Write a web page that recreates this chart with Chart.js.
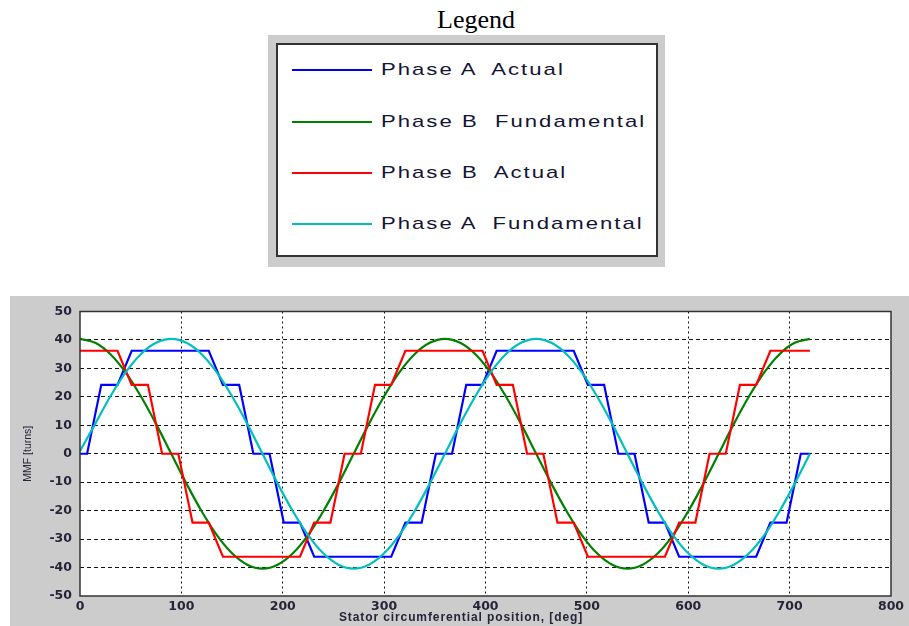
<!DOCTYPE html>
<html>
<head>
<meta charset="utf-8">
<script src="https://cdn.jsdelivr.net/npm/chart.js@4.4.1/dist/chart.umd.min.js"></script>
<style>
  body { margin: 0; background: #fff; width: 909px; height: 626px; overflow: hidden; position: relative; }
  #legendTitle { position: absolute; left: 376px; top: 3px; width: 200px; text-align: center;
    font: 26px "Liberation Serif", "Times New Roman", serif; color: #000; line-height: 34px; }
  #legendOuter { position: absolute; left: 268px; top: 35px; width: 397px; height: 232px; background: #cccccc; }
  #legendInner { position: absolute; left: 276px; top: 43px; width: 382px; height: 214px; background: #fff;
    border: 2px solid #333; box-sizing: border-box; }
  .row { position: absolute; left: 292px; height: 20px; }
  .row .swatch { position: absolute; left: 0; top: 9px; width: 80px; height: 2px; }
  .row .txt { position: absolute; left: 89px; top: 0; white-space: pre; line-height: 20px;
    font: 17px "Liberation Sans", Arial, sans-serif; letter-spacing: 1.55px; color: #141434;
    transform: scaleX(1.3); transform-origin: 0 50%; }
  #panel { position: absolute; left: 10px; top: 296px; width: 899px; height: 330px; background: #cccccc; }
</style>
</head>
<body>
<div id="legendTitle">Legend</div>
<div id="legendOuter"></div>
<div id="legendInner"></div>
<div id="legendRows"></div>
<div id="panel"><canvas id="mmf" width="899" height="330"></canvas></div>
<script>
// === Data ===
const seriesNames = ['Phase A  Actual', 'Phase B  Fundamental', 'Phase B  Actual', 'Phase A  Fundamental'];
const seriesColors = ['#0000ff', '#008000', '#ff0000', '#00bfbf'];

// stepped (actual) waveforms: corner points
const phaseAActualX = [0, 7, 21, 37, 51, 127, 141, 157, 171, 187, 201, 217, 231, 307, 321, 337, 351, 367,
  381, 397, 411, 487, 501, 517, 531, 547, 561, 577, 591, 667, 681, 697, 711, 720];
const phaseAActualY = [0, 0, 24.2, 24.2, 36.2, 36.2, 24.2, 24.2, 0, 0, -24.2, -24.2, -36.2, -36.2, -24.2, -24.2, 0, 0,
  24.2, 24.2, 36.2, 36.2, 24.2, 24.2, 0, 0, -24.2, -24.2, -36.2, -36.2, -24.2, -24.2, 0, 0];
const phaseBActualX = [0, 37, 51, 67, 81, 97, 111, 127, 141, 217, 231, 247, 261, 277, 291, 307, 321, 397,
  411, 427, 441, 457, 471, 487, 501, 577, 591, 607, 621, 637, 651, 667, 681, 720];
const phaseBActualY = [36.2, 36.2, 24.2, 24.2, 0, 0, -24.2, -24.2, -36.2, -36.2, -24.2, -24.2, 0, 0, 24.2, 24.2, 36.2, 36.2,
  24.2, 24.2, 0, 0, -24.2, -24.2, -36.2, -36.2, -24.2, -24.2, 0, 0, 24.2, 24.2, 36.2, 36.2];

// fundamentals, sampled every 15 deg
const fundX = [0, 15, 30, 45, 60, 75, 90, 105, 120, 135, 150, 165, 180, 195, 210, 225, 240, 255, 270, 285, 300, 315, 330, 345,
  360, 375, 390, 405, 420, 435, 450, 465, 480, 495, 510, 525, 540, 555, 570, 585, 600, 615, 630, 645, 660, 675, 690, 705, 720];
const phaseAFund = [1.0, 10.5, 20.2, 28.6, 35.0, 39.0, 40.4, 39.0, 35.0, 28.6, 20.2, 10.5, 0, -10.5, -20.2, -28.6, -35.0, -39.0,
  -40.4, -39.0, -35.0, -28.6, -20.2, -10.5, 0, 10.5, 20.2, 28.6, 35.0, 39.0, 40.4, 39.0, 35.0, 28.6, 20.2, 10.5, 0,
  -10.5, -20.2, -28.6, -35.0, -39.0, -40.4, -39.0, -35.0, -28.6, -20.2, -10.5, 0];
const phaseBFund = [40.4, 39.0, 35.0, 28.6, 20.2, 10.5, 0, -10.5, -20.2, -28.6, -35.0, -39.0, -40.4, -39.0, -35.0, -28.6, -20.2, -10.5,
  0, 10.5, 20.2, 28.6, 35.0, 39.0, 40.4, 39.0, 35.0, 28.6, 20.2, 10.5, 0, -10.5, -20.2, -28.6, -35.0, -39.0, -40.4,
  -39.0, -35.0, -28.6, -20.2, -10.5, 0, 10.5, 20.2, 28.6, 35.0, 39.0, 40.4];

const xTitle = 'Stator circumferential position, [deg]';
const yTitle = 'MMF [turns]';

// === Legend (html, above the plot) ===
const rowTops = [60, 112, 163, 214];
const rows = document.getElementById('legendRows');
seriesNames.forEach((name, i) => {
    const r = document.createElement('div');
    r.className = 'row';
    r.style.top = rowTops[i] + 'px';
    r.innerHTML = '<div class="swatch" style="background:' + seriesColors[i] + '"></div><div class="txt"></div>';
    r.querySelector('.txt').textContent = name;
    rows.appendChild(r);
});

// === Chart ===
const toPts = (xs, ys) => xs.map((x, i) => ({ x, y: ys[i] }));
const inkColor = '#25253a';

// white plot area + dark frame like the matlab axes; x label sits a bit left of centre in the original
const axesBox = {
    id: 'axesBox',
    beforeDraw(chart) {
        const { ctx, chartArea: a } = chart;
        ctx.save(); ctx.fillStyle = '#fff';
        ctx.fillRect(a.left, a.top, a.right - a.left, a.bottom - a.top);
        ctx.restore();
    },
    afterDraw(chart) {
        const { ctx, chartArea: a } = chart;
        ctx.save(); ctx.strokeStyle = '#333'; ctx.lineWidth = 1.5;
        ctx.strokeRect(a.left, a.top, a.right - a.left, a.bottom - a.top);
        ctx.fillStyle = inkColor;
        ctx.font = 'bold 12px "Liberation Sans", Arial, sans-serif';
        ctx.letterSpacing = '0.9px';
        ctx.textAlign = 'center'; ctx.textBaseline = 'middle';
        ctx.fillText(xTitle, 451, 322);
        ctx.restore();
    }
};

const lineDs = (i, xs, ys, smooth, order) => ({
    label: seriesNames[i],
    data: toPts(xs, ys),
    borderColor: seriesColors[i],
    backgroundColor: seriesColors[i],
    borderWidth: 2.2,
    pointRadius: 0,
    tension: 0,
    cubicInterpolationMode: smooth ? 'monotone' : 'default',
    order
});

const edgeHidden = (lo, hi) => c => (c.tick && (c.tick.value === lo || c.tick.value === hi)) ? 'rgba(0,0,0,0)' : '#111';
const tickFont = { family: 'DejaVu Sans', size: 12.5, weight: 'bold' };

new Chart(document.getElementById('mmf').getContext('2d'), {
    type: 'line',
    data: {
        datasets: [
            lineDs(0, phaseAActualX, phaseAActualY, false, 4),
            lineDs(1, fundX, phaseBFund, true, 3),
            lineDs(2, phaseBActualX, phaseBActualY, false, 2),
            lineDs(3, fundX, phaseAFund, true, 1)
        ]
    },
    options: {
        responsive: false,
        animation: false,
        layout: { padding: { top: 10, right: 18, left: 0, bottom: 0 } },
        plugins: { legend: { display: false }, tooltip: { enabled: false } },
        scales: {
            x: {
                type: 'linear', min: 0, max: 800,
                ticks: { stepSize: 100, padding: 3, color: inkColor, font: tickFont },
                grid: { drawTicks: false, color: edgeHidden(0, 800), lineWidth: 1 },
                border: { display: false, dash: [2, 3] },
                afterFit(s) { s.height = 30; }
            },
            y: {
                type: 'linear', min: -50, max: 50,
                ticks: { stepSize: 10, padding: 8, color: inkColor, font: tickFont },
                grid: { drawTicks: false, color: edgeHidden(-50, 50), lineWidth: 1 },
                border: { display: false, dash: [4, 3] },
                title: { display: true, text: yTitle, color: inkColor, padding: { top: 11.7, bottom: 0 },
                    font: { family: 'Liberation Sans', size: 10.5 } },
                afterFit(s) { s.width = 70; }
            }
        }
    },
    plugins: [axesBox]
});
</script>
</body>
</html>
